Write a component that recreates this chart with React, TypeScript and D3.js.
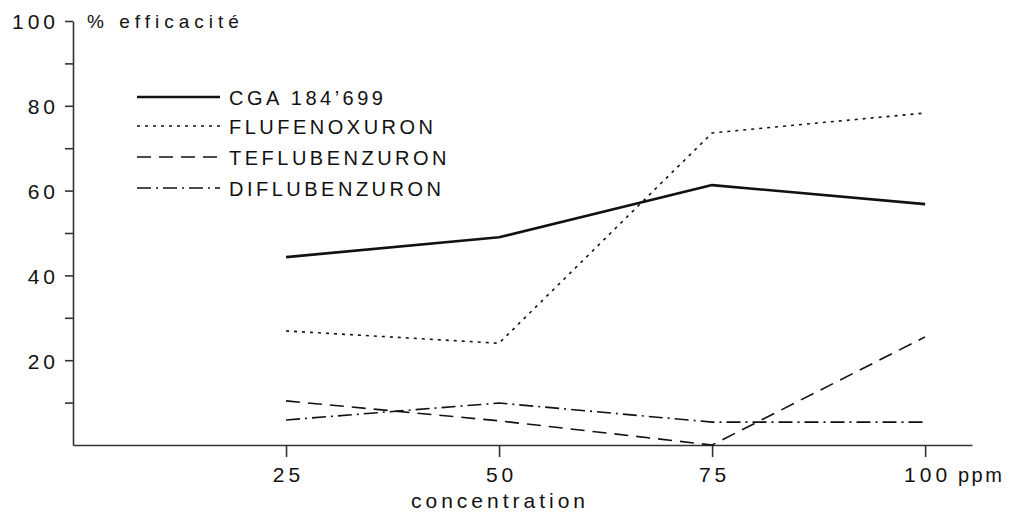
import React, { useEffect, useRef } from "react";
import * as d3 from "d3";

const concentrations = [25, 50, 75, 100];
const cga = [44.3, 49.0, 61.3, 56.8];
const flufenoxuron = [26.9, 24.0, 73.6, 78.3];
const teflubenzuron = [10.4, 5.7, 0, 25.5];
const diflubenzuron = [5.9, 9.9, 5.4, 5.4];
const seriesNames = ["CGA 184\u2019699", "FLUFENOXURON", "TEFLUBENZURON", "DIFLUBENZURON"];
const yTicks = [10, 20, 30, 40, 50, 60, 70, 80, 90, 100];

const FONT = "'Liberation Sans', Arial, Helvetica, sans-serif";

export default function App() {
  const svgRef = useRef<SVGSVGElement>(null);

  useEffect(() => {
    const svg = d3.select(svgRef.current);
    svg.selectAll("*").remove();

    const x = d3.scaleLinear().domain([0, 105.5]).range([73, 972]);
    const y = d3.scaleLinear().domain([0, 100]).range([445, 21]);

    // y axis
    const yAxis = svg.append("g")
      .attr("transform", "translate(73,0)")
      .call(
        d3.axisLeft(y)
          .tickValues(yTicks)
          .tickSize(8)
          .tickSizeOuter(0)
          .tickPadding(10)
          .tickFormat(d => ((d as number) % 20 === 0 ? String(d) : ""))
      );

    // x axis
    const xAxis = svg.append("g")
      .attr("transform", "translate(0,445)")
      .call(
        d3.axisBottom(x)
          .tickValues(concentrations)
          .tickSize(12)
          .tickSizeOuter(0)
          .tickPadding(10)
      );

    [yAxis, xAxis].forEach(ax => {
      ax.select(".domain").attr("stroke", "#333").attr("stroke-width", 1.6);
      ax.selectAll(".tick line").attr("stroke", "#333").attr("stroke-width", 1.6);
      ax.selectAll("text")
        .attr("fill", "#111")
        .style("font-family", FONT)
        .style("font-size", "21px")
        .style("letter-spacing", "4px");
    });
    yAxis.selectAll("text").attr("dx", "4px").attr("dy", "0.38em");
    xAxis.selectAll("text").attr("dx", "2px");

    svg.append("text")
      .attr("x", 958)
      .attr("y", 482)
      .attr("fill", "#111")
      .style("font-family", FONT)
      .style("font-size", "20px")
      .style("letter-spacing", "2.5px")
      .text("ppm");

    svg.append("text")
      .attr("x", 500)
      .attr("y", 508)
      .attr("text-anchor", "middle")
      .attr("fill", "#111")
      .style("font-family", FONT)
      .style("font-size", "21px")
      .style("letter-spacing", "4px")
      .text("concentration");

    svg.append("text")
      .attr("x", 87)
      .attr("y", 28)
      .attr("fill", "#111")
      .style("font-family", FONT)
      .style("font-size", "19px")
      .style("letter-spacing", "5px")
      .text("% efficacit\u00e9");

    const series = [
      { values: cga, dash: null, width: 2.6 },
      { values: flufenoxuron, dash: "3,5", width: 1.6 },
      { values: teflubenzuron, dash: "14,8", width: 1.6 },
      { values: diflubenzuron, dash: "14,5,2,5", width: 1.6 },
    ];

    const line = d3.line<number>()
      .x((_, i) => x(concentrations[i]))
      .y(d => y(d));

    series.forEach(s => {
      svg.append("path")
        .datum(s.values)
        .attr("d", line)
        .attr("fill", "none")
        .attr("stroke", "#111")
        .attr("stroke-width", s.width)
        .attr("stroke-dasharray", s.dash)
        .attr("stroke-linejoin", "round");
    });

    // legend
    const legendY = [97, 126, 157, 188];
    series.forEach((s, i) => {
      svg.append("line")
        .attr("x1", 137)
        .attr("x2", 220)
        .attr("y1", legendY[i])
        .attr("y2", legendY[i])
        .attr("stroke", "#111")
        .attr("stroke-width", s.width)
        .attr("stroke-dasharray", s.dash);
      svg.append("text")
        .attr("x", 229)
        .attr("y", legendY[i] + 8)
        .attr("fill", "#111")
        .style("font-family", FONT)
        .style("font-size", "20px")
        .style("letter-spacing", "3.5px")
        .text(seriesNames[i]);
    });
  }, []);

  return (
    <svg
      ref={svgRef}
      width={1009}
      height={513}
      style={{ position: "absolute", left: 0, top: 0, background: "#fff" }}
    />
  );
}
